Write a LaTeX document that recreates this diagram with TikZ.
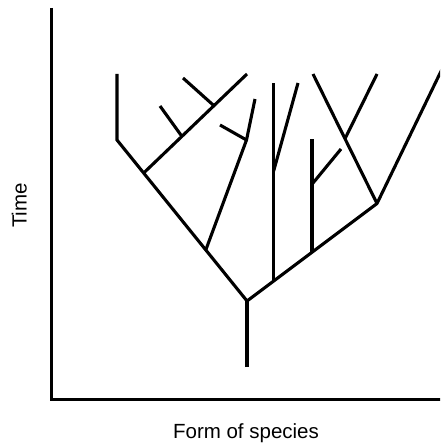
\documentclass[tikz,border=0pt]{standalone}
\usepackage{fontspec}
\setmainfont{Liberation Sans}
\usetikzlibrary{calc}
\begin{document}
\begin{tikzpicture}[x=1pt,y=-1pt,
  branch/.style={line width=3.1pt,line cap=butt,line join=miter},
  axis/.style={line width=3.3pt},
  lbl/.style={font=\fontsize{20.5}{24}\selectfont,inner sep=0pt}]
\clip (0,0) rectangle (440,446);
\useasboundingbox (0,0) rectangle (440,446);
% axes
\coordinate (ytop) at (51.5,8);
\coordinate (origin) at (51.5,399.5);
\coordinate (xend) at (445,399.5);
\draw[axis] (ytop) -- (origin) -- (xend);
\node[lbl,rotate=90,anchor=base] (tlab) at (26.5,205.5) {Time};
\node[lbl,anchor=base] (flab) at (246,438.5) {Form of species};
% tree coordinates
\coordinate (rb) at (247,367);
\coordinate (R) at (247,301);
\coordinate (L) at (117,140);
\coordinate (Ltop) at (117,74);
\coordinate (A) at ($(R)!0.795!(L)$);
\coordinate (Atop) at (247,74);
\coordinate (A1) at ($(A)!0.37!(Atop)$);
\coordinate (A1t) at (160,106);
\coordinate (A2) at ($(A)!0.68!(Atop)$);
\coordinate (A2t) at (183,78);
\coordinate (B) at ($(R)!0.317!(L)$);
\coordinate (B1) at (246.5,140);
\coordinate (Btop) at (255,99);
\coordinate (B1t) at (220,125);
\coordinate (Rr) at (377,203.5);
\coordinate (C) at ($(R)!0.205!(Rr)$);
\coordinate (Ctop) at ($(C)+(0,-198)$);
\coordinate (C1) at ($(C)+(0,-110)$);
\coordinate (C1t) at (298,83);
\coordinate (D) at ($(R)!0.5!(Rr)$);
\coordinate (Dtop) at ($(D)+(0,-113)$);
\coordinate (D1) at ($(D)+(0,-68)$);
\coordinate (D1t) at (341,149);
\coordinate (Etop) at (313,74);
\coordinate (E) at ($(Rr)!0.5!(Etop)$);
\coordinate (Et) at (377,74);
\coordinate (Rt) at ($(Rr)!1.1!(440,73.3)$);
% tree
\draw[branch] (rb) -- (R);
\draw[branch] (Ltop) -- (L) -- (R) -- (Rr) -- (Rt);
\draw[branch] (A) -- (Atop);
\draw[branch] (A1) -- (A1t);
\draw[branch] (A2) -- (A2t);
\draw[branch] (B) -- (B1) -- (Btop);
\draw[branch] (B1) -- (B1t);
\draw[branch] (C) -- (Ctop);
\draw[branch] (C1) -- (C1t);
\draw[branch] (D) -- (Dtop);
\draw[branch] (D1) -- (D1t);
\draw[branch] (Rr) -- (Etop);
\draw[branch] (E) -- (Et);
\end{tikzpicture}
\end{document}
